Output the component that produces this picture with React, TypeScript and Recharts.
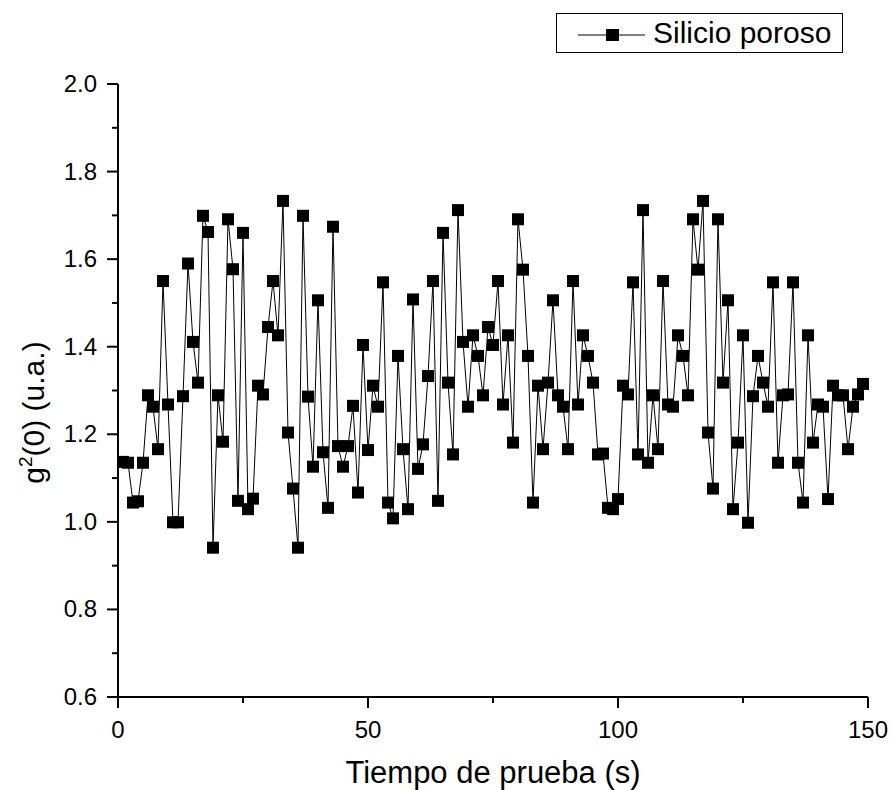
import { LineChart, Line, XAxis, YAxis, Label } from "recharts";

const FONT = '"Liberation Sans", Arial, sans-serif';

// tiempo (s)
const TIEMPO = [
  1, 2, 3, 4, 5, 6, 7, 8, 9, 10, 11, 12, 13, 14, 15, 16, 17, 18, 19, 20,
  21, 22, 23, 24, 25, 26, 27, 28, 29, 30, 31, 32, 33, 34, 35, 36, 37, 38, 39, 40,
  41, 42, 43, 44, 45, 46, 47, 48, 49, 50, 51, 52, 53, 54, 55, 56, 57, 58, 59, 60,
  61, 62, 63, 64, 65, 66, 67, 68, 69, 70, 71, 72, 73, 74, 75, 76, 77, 78, 79, 80,
  81, 82, 83, 84, 85, 86, 87, 88, 89, 90, 91, 92, 93, 94, 95, 96, 97, 98, 99, 100,
  101, 102, 103, 104, 105, 106, 107, 108, 109, 110, 111, 112, 113, 114, 115, 116, 117, 118, 119, 120,
  121, 122, 123, 124, 125, 126, 127, 128, 129, 130, 131, 132, 133, 134, 135, 136, 137, 138, 139, 140,
  141, 142, 143, 144, 145, 146, 147, 148, 149,
];

// g2(0) silicio poroso
const G2 = [
  1.137, 1.135, 1.044, 1.047, 1.135, 1.289, 1.263, 1.166, 1.55, 1.268,
  0.999, 0.999, 1.287, 1.59, 1.411, 1.318, 1.699, 1.662, 0.941, 1.289,
  1.183, 1.691, 1.577, 1.048, 1.66, 1.029, 1.053, 1.311, 1.291, 1.445,
  1.55, 1.426, 1.733, 1.204, 1.076, 0.941, 1.699, 1.286, 1.126, 1.506,
  1.159, 1.032, 1.674, 1.173, 1.126, 1.173, 1.265, 1.067, 1.404, 1.164,
  1.311, 1.263, 1.547, 1.044, 1.008, 1.379, 1.166, 1.029, 1.508, 1.121,
  1.177, 1.333, 1.55, 1.048, 1.66, 1.318, 1.154, 1.712, 1.411, 1.263,
  1.426, 1.379, 1.289, 1.445, 1.404, 1.55, 1.268, 1.426, 1.181, 1.691,
  1.576, 1.379, 1.044, 1.311, 1.166, 1.318, 1.506, 1.289, 1.263, 1.166,
  1.55, 1.268, 1.426, 1.379, 1.318, 1.154, 1.156, 1.032, 1.029, 1.052,
  1.311, 1.291, 1.547, 1.154, 1.712, 1.135, 1.289, 1.166, 1.55, 1.268,
  1.263, 1.426, 1.379, 1.289, 1.691, 1.576, 1.733, 1.204, 1.076, 1.691,
  1.318, 1.506, 1.029, 1.181, 1.426, 0.998, 1.287, 1.379, 1.318, 1.263,
  1.547, 1.135, 1.289, 1.291, 1.547, 1.135, 1.044, 1.426, 1.181, 1.268,
  1.263, 1.052, 1.311, 1.289, 1.289, 1.166, 1.263, 1.291, 1.315,
];

const X_TICKS = [0, 25, 50, 75, 100, 125, 150];
const Y_TICKS = [0.6, 0.7, 0.8, 0.9, 1.0, 1.1, 1.2, 1.3, 1.4, 1.5, 1.6, 1.7, 1.8, 1.9, 2.0];

const data = TIEMPO.map((t, i) => ({ t, g2: G2[i] }));

const SquareDot = (props: any) => {
  const { cx, cy, index } = props;
  if (cx == null || cy == null) return null;
  return <rect key={index} x={cx - 6} y={cy - 6} width={12} height={12} fill="#000" />;
};

const XTick = ({ x, y, payload }: any) => {
  const major = payload.value % 50 === 0;
  return (
    <g>
      <line x1={x} y1={y} x2={x} y2={y + (major ? 11 : 6)} stroke="#000" strokeWidth={2} />
      {major && (
        <text x={x} y={y + 41} textAnchor="middle" fontSize={24} fontFamily={FONT} fill="#000">
          {payload.value}
        </text>
      )}
    </g>
  );
};

const YTick = ({ x, y, payload }: any) => {
  const major = Math.round(payload.value * 10) % 2 === 0;
  return (
    <g>
      <line x1={x} y1={y} x2={x - (major ? 11 : 6)} y2={y} stroke="#000" strokeWidth={2} />
      {major && (
        <text x={x - 21} y={y + 8} textAnchor="end" fontSize={24} fontFamily={FONT} fill="#000">
          {payload.value.toFixed(1)}
        </text>
      )}
    </g>
  );
};

const LegendBox = () => (
  <div
    style={{
      position: "absolute",
      left: 556,
      top: 13,
      width: 285,
      height: 38,
      border: "1px solid #000",
      display: "flex",
      alignItems: "center",
      fontFamily: FONT,
      fontSize: 30,
      color: "#000",
      background: "#fff",
    }}
  >
    <svg width={96} height={38} style={{ flex: "none" }}>
      <line x1={21} y1={21} x2={88} y2={21} stroke="#000" strokeWidth={1} />
      <rect x={49} y={15} width={13} height={12} fill="#000" />
    </svg>
    <span>Silicio poroso</span>
  </div>
);

export default function App() {
  return (
    <div style={{ position: "relative", width: 892, height: 790, overflow: "hidden" }}>
      <style>{`html, body { margin: 0; padding: 0; overflow: hidden; }`}</style>
      <LineChart
        width={892}
        height={790}
        data={data}
        margin={{ top: 84, right: 24, left: 58, bottom: 33 }}
        style={{ background: "#fff" }}
      >
        <XAxis
          dataKey="t"
          type="number"
          domain={[0, 150]}
          ticks={X_TICKS}
          interval={0}
          tickSize={0}
          tickMargin={0}
          tickLine={false}
          tick={<XTick />}
          height={60}
          axisLine={{ stroke: "#000", strokeWidth: 2 }}
        >
          <Label
            content={({ viewBox }: any) => (
              <text
                x={viewBox.x + viewBox.width / 2}
                y={viewBox.y + 86}
                textAnchor="middle"
                fontSize={31}
                fontFamily={FONT}
                fill="#000"
              >
                Tiempo de prueba (s)
              </text>
            )}
          />
        </XAxis>
        <YAxis
          type="number"
          domain={[0.6, 2.0]}
          ticks={Y_TICKS}
          interval={0}
          tickSize={0}
          tickMargin={0}
          tickLine={false}
          tick={<YTick />}
          width={60}
          axisLine={{ stroke: "#000", strokeWidth: 2 }}
        >
          <Label
            content={({ viewBox }: any) => {
              const cx = viewBox.x - 14;
              const cy = viewBox.y + viewBox.height / 2 + 22;
              return (
                <text
                  x={cx}
                  y={cy}
                  transform={`rotate(-90 ${cx} ${cy})`}
                  textAnchor="middle"
                  fontSize={30}
                  fontFamily={FONT}
                  fill="#000"
                >
                  g<tspan dy={-12} fontSize={19}>2</tspan>
                  <tspan dy={12}>(0) (u.a.)</tspan>
                </text>
              );
            }}
          />
        </YAxis>
        <Line
          type="linear"
          dataKey="g2"
          name="Silicio poroso"
          stroke="#000"
          strokeWidth={1}
          dot={<SquareDot />}
          activeDot={false}
          isAnimationActive={false}
        />
      </LineChart>
      <LegendBox />
    </div>
  );
}
